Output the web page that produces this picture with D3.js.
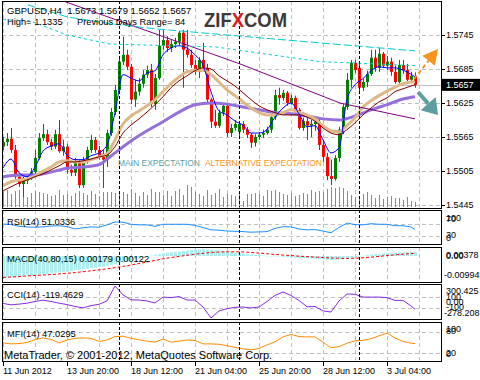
<!DOCTYPE html>
<html><head><meta charset="utf-8">
<script src="https://cdn.jsdelivr.net/npm/d3@7"></script>
<style>
html,body{margin:0;padding:0;background:#fff;}
svg{display:block;}
text{font-family:"Liberation Sans",Arial,sans-serif;white-space:pre;}
</style></head><body>
<svg id="c" width="480" height="380"></svg>
<script>
// ---------------- DATA ----------------
const titleText = "GBPUSD,H4  1.5673 1.5679 1.5652 1.5657";
const infoLeft = "High= 1.1335";
const infoRight = "Previous Days Range= 84";
const open = [1.5548,1.5556,1.5562,1.5542,1.5495,1.5482,1.5488,1.5493,1.5503,1.5528,
1.5563,1.5570,1.5556,1.5548,1.5570,1.5540,1.5548,1.5507,1.5502,1.5521,
1.5480,1.5521,1.5542,1.5560,1.5542,1.5530,1.5525,1.5572,1.5609,1.5648,
1.5698,1.5710,1.5689,1.5631,1.5645,1.5659,1.5675,1.5683,1.5623,1.5669,
1.5726,1.5736,1.5722,1.5729,1.5733,1.5749,1.5719,1.5710,1.5692,1.5680,
1.5701,1.5687,1.5631,1.5592,1.5585,1.5608,1.5620,1.5572,1.5581,1.5574,
1.5588,1.5578,1.5569,1.5555,1.5565,1.5569,1.5572,1.5578,1.5600,1.5639,
1.5634,1.5643,1.5625,1.5634,1.5613,1.5581,1.5593,1.5585,1.5588,1.5592,
1.5551,1.5530,1.5496,1.5491,1.5528,1.5578,1.5618,1.5666,1.5696,1.5687,
1.5652,1.5662,1.5676,1.5705,1.5687,1.5712,1.5691,1.5698,1.5680,1.5662,
1.5692,1.5683,1.5666,1.5673];
const high = [1.5565,1.5572,1.5581,1.5551,1.5500,1.5495,1.5498,1.5510,1.5542,1.5572,
1.5588,1.5578,1.5562,1.5578,1.5595,1.5560,1.5553,1.5516,1.5528,1.5525,
1.5530,1.5548,1.5569,1.5565,1.5549,1.5542,1.5578,1.5616,1.5657,1.5705,
1.5742,1.5719,1.5694,1.5666,1.5669,1.5683,1.5691,1.5694,1.5676,1.5754,
1.5754,1.5743,1.5736,1.5740,1.5752,1.5754,1.5754,1.5719,1.5701,1.5706,
1.5731,1.5694,1.5634,1.5613,1.5613,1.5625,1.5625,1.5588,1.5595,1.5593,
1.5593,1.5583,1.5572,1.5570,1.5574,1.5578,1.5583,1.5604,1.5648,1.5652,
1.5648,1.5646,1.5639,1.5638,1.5616,1.5599,1.5599,1.5595,1.5599,1.5599,
1.5560,1.5537,1.5525,1.5533,1.5583,1.5623,1.5678,1.5701,1.5701,1.5698,
1.5668,1.5682,1.5719,1.5719,1.5722,1.5715,1.5708,1.5705,1.5691,1.5701,
1.5701,1.5694,1.5680,1.5679];
const low = [1.5542,1.5549,1.5537,1.5491,1.5477,1.5459,1.5482,1.5489,1.5498,1.5525,
1.5558,1.5551,1.5542,1.5544,1.5537,1.5532,1.5500,1.5496,1.5496,1.5475,
1.5475,1.5518,1.5537,1.5537,1.5525,1.5475,1.5512,1.5567,1.5604,1.5643,
1.5692,1.5683,1.5623,1.5618,1.5638,1.5652,1.5669,1.5618,1.5613,1.5666,
1.5719,1.5715,1.5715,1.5722,1.5726,1.5652,1.5705,1.5687,1.5675,1.5669,
1.5680,1.5623,1.5581,1.5581,1.5581,1.5602,1.5565,1.5565,1.5576,1.5563,
1.5572,1.5563,1.5546,1.5548,1.5560,1.5563,1.5569,1.5572,1.5595,1.5622,
1.5629,1.5620,1.5622,1.5608,1.5578,1.5576,1.5560,1.5565,1.5576,1.5542,
1.5521,1.5489,1.5480,1.5488,1.5521,1.5570,1.5613,1.5652,1.5678,1.5646,
1.5646,1.5653,1.5673,1.5680,1.5680,1.5687,1.5683,1.5673,1.5659,1.5659,
1.5676,1.5662,1.5662,1.5652];
const close = [1.5556,1.5562,1.5542,1.5495,1.5482,1.5488,1.5493,1.5503,1.5528,1.5563,
1.5570,1.5556,1.5548,1.5570,1.5540,1.5548,1.5507,1.5502,1.5521,1.5480,
1.5521,1.5542,1.5560,1.5542,1.5530,1.5525,1.5572,1.5609,1.5648,1.5698,
1.5710,1.5689,1.5631,1.5645,1.5659,1.5675,1.5683,1.5623,1.5669,1.5726,
1.5736,1.5722,1.5729,1.5733,1.5749,1.5719,1.5710,1.5692,1.5680,1.5701,
1.5687,1.5631,1.5592,1.5585,1.5608,1.5620,1.5572,1.5581,1.5588,1.5588,
1.5578,1.5569,1.5555,1.5565,1.5569,1.5572,1.5578,1.5600,1.5639,1.5634,
1.5643,1.5625,1.5634,1.5613,1.5581,1.5593,1.5585,1.5588,1.5592,1.5551,
1.5530,1.5496,1.5491,1.5528,1.5578,1.5618,1.5666,1.5696,1.5683,1.5652,
1.5662,1.5676,1.5705,1.5687,1.5712,1.5691,1.5698,1.5680,1.5662,1.5692,
1.5683,1.5666,1.5673,1.5657];
const volume = [3000,3400,2600,3200,3400,2800,2000,2800,3200,3000,
2800,2600,2200,2400,3400,2400,2600,2200,2800,3200,
2800,2400,3200,2600,2200,3000,3000,3000,2800,2600,
3000,2600,3600,2800,2200,3000,2400,3600,3000,3000,
2400,3200,2200,3200,3600,2400,4400,4000,3000,2600,
2200,3400,2400,2800,3600,2000,2600,2400,2200,2800,
1200,2600,2600,2800,2600,2200,3400,3200,3400,3000,
2600,2400,2800,2200,2400,2800,2600,3400,3000,3200,
3000,3600,4000,3800,4000,3800,3200,2400,2000,2000,
2600,3000,2400,1800,2400,1600,2000,2200,1800,1800,
1400,2000,1200,1000];

// moving averages sampled every 2 bars (last sample = last bar)
const maIdx = d3.range(0, 103, 2).concat([103]);
const fastMA = [1.5510,1.5526,1.5502,1.5495,1.5512,1.5540,1.5549,1.5553,1.5533,1.5525,
1.5525,1.5532,1.5537,1.5551,1.5608,1.5675,1.5669,1.5664,1.5678,1.5682,
1.5710,1.5722,1.5726,1.5722,1.5710,1.5692,1.5645,1.5611,1.5604,1.5593,
1.5586,1.5572,1.5572,1.5578,1.5600,1.5616,1.5625,1.5606,1.5583,1.5585,
1.5560,1.5537,1.5546,1.5631,1.5657,1.5668,1.5682,1.5689,1.5687,1.5687,
1.5683,1.5676,1.5671];
const midMA = [1.5479,1.5486,1.5489,1.5491,1.5496,1.5505,1.5512,1.5521,1.5523,1.5521,
1.5521,1.5525,1.5530,1.5535,1.5560,1.5588,1.5602,1.5611,1.5620,1.5631,
1.5645,1.5659,1.5671,1.5680,1.5683,1.5683,1.5675,1.5662,1.5648,1.5638,
1.5627,1.5616,1.5608,1.5604,1.5604,1.5608,1.5613,1.5609,1.5604,1.5597,
1.5585,1.5576,1.5574,1.5585,1.5599,1.5618,1.5629,1.5638,1.5646,1.5653,
1.5659,1.5662,1.5662];
const mid2MA = [1.5470,1.5477,1.5484,1.5489,1.5495,1.5500,1.5507,1.5514,1.5521,1.5521,
1.5523,1.5526,1.5530,1.5533,1.5548,1.5572,1.5586,1.5597,1.5609,1.5622,
1.5636,1.5652,1.5664,1.5673,1.5682,1.5687,1.5685,1.5673,1.5664,1.5655,
1.5643,1.5631,1.5620,1.5613,1.5608,1.5604,1.5604,1.5604,1.5600,1.5593,
1.5581,1.5572,1.5569,1.5578,1.5590,1.5604,1.5616,1.5627,1.5634,1.5645,
1.5650,1.5655,1.5657];
const slowIdx = [0,4,8,12,16,20,24,26,28,32,36,40,44,48,52,56,60,64,68,72,76,80,84,88,92,96,100,103];
const slowMA = [1.5495,1.5498,1.5498,1.5503,1.5510,1.5512,1.5516,1.5526,1.5537,1.5558,
1.5576,1.5592,1.5609,1.5622,1.5625,1.5623,1.5618,1.5613,1.5608,1.5606,
1.5602,1.5597,1.5595,1.5602,1.5613,1.5622,1.5632,1.5636];

// chart objects: [bar index, price]
const cyanUpper = [[6.25,1.5798],[16,1.5777],[26.75,1.5765],[38,1.5756],[59.25,1.5743],[103,1.5717]];
const cyanLower = [[0,1.5772],[6.75,1.5770],[16,1.5745],[26.75,1.5729],[53,1.5724],[79.25,1.5698],[103,1.5691]];
const trendLine = [[14.25,1.5807],[59.25,1.5694],[84.25,1.5625],[103,1.5597]];

// indicators (every 2 bars, last = last bar)
const rsi = [70,68,62,60,59,60,63,64,61,53,57,60,59,67,77,76,69,67,67,62,
69,69,69,69,65,58,50,49,46,45,44,42,43,44,55,61,60,53,50,51,
46,40,58,73,68,67,71,69,69,64,64,60,51.03];
const macdMain = [-0.0099,-0.0097,-0.0095,-0.0093,-0.0091,-0.0090,-0.0088,-0.0087,-0.0085,-0.0083,
-0.0081,-0.0080,-0.0078,-0.0076,-0.0074,-0.0072,-0.0070,-0.0068,-0.0065,-0.0063,
-0.0060,-0.0058,-0.0055,-0.0053,-0.0050,-0.0048,-0.0044,-0.0040,-0.0036,-0.0032,
-0.0029,-0.0025,-0.0020,-0.0016,-0.0011,-0.0007,-0.0002,0.0002,0.0006,0.0009,
0.0012,0.0015,0.0017,0.0019,0.0021,0.0023,0.0025,0.0027,0.0028,0.0029,
0.0030,0.0029,0.0028,0.0027,0.0025,0.0023,0.0020,0.0018,0.0015,0.0013,
0.0011,0.0009,0.0007,0.0005,0.0003,0.0002,0.0000,-0.0001,-0.0002,-0.0003,
-0.0004,-0.0005,-0.0006,-0.0008,-0.0009,-0.0010,-0.0011,-0.0012,-0.0013,-0.0015,
-0.0016,-0.0017,-0.0018,-0.0018,-0.0016,-0.0013,-0.0010,-0.0007,-0.0004,-0.0001,
0.0001,0.0004,0.0006,0.0008,0.0009,0.0011,0.0012,0.0013,0.0014,0.0015,
0.0016,0.0017,0.0017,0.00179];
const macdSignal = [-0.0097,-0.0095,-0.0093,-0.0090,-0.0088,-0.0086,-0.0084,-0.0081,-0.0078,-0.0075,
-0.0071,-0.0067,-0.0063,-0.0058,-0.0053,-0.0047,-0.0041,-0.0034,-0.0027,-0.0020,
-0.0013,-0.0007,-0.0002,0.0003,0.0008,0.0012,0.0016,0.0018,0.0019,0.0019,
0.0018,0.0016,0.0013,0.0010,0.0007,0.0004,0.0002,-0.0001,-0.0003,-0.0005,
-0.0007,-0.0009,-0.0010,-0.0011,-0.0010,-0.0008,-0.0005,-0.0002,0.0002,0.0005,
0.0008,0.0011,0.00122];
const cci = [-15,-40,-27,-10,20,45,20,-10,-35,-70,-95,-55,-30,30,300,140,50,47,30,-7,
100,90,110,47,47,-80,-278,-150,-110,-85,-80,-97,-80,20,130,192,130,40,-75,-70,
-150,-170,30,156,150,100,100,100,90,40,40,-60,-119.46];
const mfi = [49,46,47,50,58,63,59,49,57,62,63,62,53,57,67,68,62,58,54,51,
60,51,54,57,56,46,46,45,41,36,32,29,33,43,52,66,73,67,66,66,
51,35,38,48,55,56,61,69,77,63,53,48,47.03];

// axes / labels
const priceTicks = [1.5745,1.5685,1.5625,1.5565,1.5505,1.5445];
const lastPrice = 1.5657;
const timeLabels = ["11 Jun 2012","13 Jun 20:00","18 Jun 12:00","21 Jun 04:00","25 Jun 20:00","28 Jun 12:00","3 Jul 04:00"];
const timeIdx = [0,16,32,48,64,80,96];
const weekIdx = [29,59,89];
const rsiLabel = "RSI(14) 51.0336";
const macdLabel = "MACD(40,80,15) 0.00179 0.00122";
const cciLabel = "CCI(14) -119.4629";
const mfiLabel = "MFI(14) 47.0295";
const rsiScaleLabels = ["100","70","30","0"];
const macdScaleLabels = ["0.00378","0.00","-0.00994"];
const cciScaleLabels = ["300.425","100","0.00","-100","-278.208"];
const mfiScaleLabels = ["100","80","20","0"];
const rsiLevels = [70,30], cciLevels = [100,-100], mfiLevels = [80,20];
const copyright = "MetaTrader, \u00A9 2001-2012, MetaQuotes Software Corp.";

// ---------------- DRAWING ----------------
const svg = d3.select("#c");
const L = 2, R = 441;
const x = d3.scaleLinear().domain([0,103]).range([3,415]);
const yP = d3.scaleLinear().domain([1.5445,1.5745]).range([205,35]);
const yV = d3.scaleLinear().domain([0,6000]).range([207,177]);
const yRSI = d3.scaleLinear().domain([0,100]).range([244.5,215.2]);
const yMACD = d3.scaleLinear().domain([-0.00994,0.00378]).range([278,247.6]);
const yCCI = d3.scaleLinear().domain([-278.208,300.425]).range([318,286]);
const yMFI = d3.scaleLinear().domain([0,100]).range([360,325]);

const panels = {main:[1,208], rsi:[210,244], macd:[247,282], cci:[284,319], mfi:[322,361]};
const defs = svg.append("defs");
Object.entries(panels).forEach(([k,[t,b]])=>{
  defs.append("clipPath").attr("id","clip-"+k).append("rect")
    .attr("x",L+0.5).attr("y",t+0.5).attr("width",R-L-1).attr("height",b-t-1);
});
const gridIdx = d3.range(0,105,8);
const gridCol = "#c0c0c0";

function panelBase(k, levels, yS){
  const [t,b] = panels[k];
  const g = svg.append("g").attr("clip-path","url(#clip-"+k+")");
  g.selectAll("line.vg").data(gridIdx).join("line")
    .attr("x1",d=>x(d)+0.5).attr("x2",d=>x(d)+0.5).attr("y1",t).attr("y2",b)
    .attr("stroke",gridCol).attr("stroke-dasharray","4,3");
  if(levels){
    g.selectAll("line.hg").data(levels).join("line")
      .attr("x1",L).attr("x2",R).attr("y1",d=>Math.round(yS(d))+0.5).attr("y2",d=>Math.round(yS(d))+0.5)
      .attr("stroke",gridCol).attr("stroke-dasharray","4,3");
  }
  return g;
}
function panelTop(k, g){
  const [t,b] = panels[k];
  g.selectAll("line.sep").data(weekIdx).join("line")
    .attr("x1",d=>x(d)+0.5).attr("x2",d=>x(d)+0.5).attr("y1",t).attr("y2",b)
    .attr("stroke","#000").attr("stroke-dasharray","3,2");
  svg.append("rect").attr("x",L+0.5).attr("y",t+0.5).attr("width",R-L).attr("height",b-t)
    .attr("fill","none").attr("stroke","#000");
}

// ----- main panel -----
const gm = panelBase("main", priceTicks, yP);
gm.append("line").attr("x1",L).attr("x2",R).attr("y1",Math.round(yP(lastPrice))+0.5).attr("y2",Math.round(yP(lastPrice))+0.5)
  .attr("stroke","#c0c0c0");
gm.selectAll("line.vol").data(volume).join("line")
  .attr("x1",(d,i)=>x(i)+0.5).attr("x2",(d,i)=>x(i)+0.5)
  .attr("y1",yV(0)).attr("y2",d=>yV(d)).attr("stroke","#5f9ea0");
const bars = close.map((c,i)=>({i,o:open[i],h:high[i],l:low[i],c}));
const col = d=> d.c>=d.o ? "#008000" : "#ff0000";
gm.selectAll("line.wick").data(bars).join("line")
  .attr("x1",d=>x(d.i)+0.5).attr("x2",d=>x(d.i)+0.5)
  .attr("y1",d=>yP(d.h)).attr("y2",d=>yP(d.l)).attr("stroke",col);
gm.selectAll("rect.body").data(bars).join("rect")
  .attr("x",d=>x(d.i)-1).attr("width",3)
  .attr("y",d=>Math.min(yP(d.o),yP(d.c)))
  .attr("height",d=>Math.max(1,Math.abs(yP(d.o)-yP(d.c))))
  .attr("fill",col);
const maLine = d3.line().x(d=>x(d[0])).y(d=>yP(d[1])).curve(d3.curveMonotoneX);
gm.append("path").attr("d",maLine(slowIdx.map((k,j)=>[k,slowMA[j]]))).attr("fill","none").attr("stroke","#9370db").attr("stroke-width",3);
gm.append("path").attr("d",maLine(maIdx.map((k,j)=>[k,midMA[j]]))).attr("fill","none").attr("stroke","#deb887").attr("stroke-width",3);
gm.append("path").attr("d",maLine(maIdx.map((k,j)=>[k,mid2MA[j]]))).attr("fill","none").attr("stroke","#800000").attr("stroke-width",1);
gm.append("path").attr("d",maLine(maIdx.map((k,j)=>[k,fastMA[j]]))).attr("fill","none").attr("stroke","#0000ff").attr("stroke-width",1);
const objLine = d3.line().x(d=>x(d[0])).y(d=>yP(d[1]));
gm.append("path").attr("d",objLine(trendLine)).attr("fill","none").attr("stroke","#800080").attr("stroke-width",1);
gm.append("path").attr("d",objLine(cyanUpper)).attr("fill","none").attr("stroke","#00ced1").attr("stroke-width",1).attr("stroke-dasharray","8,3");
gm.append("path").attr("d",objLine(cyanLower)).attr("fill","none").attr("stroke","#00ced1").attr("stroke-width",1).attr("stroke-dasharray","3,3");
panelTop("main", gm);

// texts in main
svg.append("text").attr("x",7).attr("y",14).attr("font-size",9.5).attr("fill","#000").text(titleText);
svg.append("text").attr("x",7).attr("y",24.5).attr("font-size",9.3).attr("fill","#000").text(infoLeft);
svg.append("text").attr("x",77).attr("y",24.5).attr("font-size",9.3).attr("fill","#000").text(infoRight);
const logo = svg.append("text").attr("x",204).attr("y",27).attr("font-size",21).attr("font-weight","bold")
  .attr("textLength",83).attr("lengthAdjust","spacingAndGlyphs").attr("fill","#3a3a3a");
logo.append("tspan").text("ZIF");
logo.append("tspan").attr("fill","#d71920").text("X");
logo.append("tspan").text("COM");
svg.append("text").attr("x",118).attr("y",165.5).attr("font-size",8.5).attr("fill","#5f9ea0")
  .attr("textLength",82).attr("lengthAdjust","spacing").text("MAIN EXPECTATION");
svg.append("text").attr("x",205).attr("y",165.5).attr("font-size",8.5).attr("fill","#f7941d")
  .attr("textLength",117).attr("lengthAdjust","spacing").text("ALTERNATIVE EXPECTATION");

function arrow(x1,y1,x2,y2,color,w,dash,headLen,headW){
  const dx=x2-x1, dy=y2-y1, len=Math.hypot(dx,dy), ux=dx/len, uy=dy/len;
  const bx=x2-ux*headLen, by=y2-uy*headLen;
  svg.append("line").attr("x1",x1).attr("y1",y1).attr("x2",bx).attr("y2",by)
    .attr("stroke",color).attr("stroke-width",w).attr("stroke-dasharray",dash||null);
  svg.append("path").attr("d",`M${x2},${y2}L${bx-uy*headW},${by+ux*headW}L${bx+uy*headW},${by-ux*headW}Z`).attr("fill",color);
}
arrow(414,79,438,49,"#f7941d",2,"4,3",15,8);
arrow(418,92,438,115,"#5f9ea0",4,null,15,10);

// ----- RSI -----
const gr = panelBase("rsi", rsiLevels, yRSI);
const idxLine = (yS)=> d3.line().x(d=>x(d[0])).y(d=>yS(d[1]));
gr.append("path").attr("d",idxLine(yRSI)(maIdx.map((k,j)=>[k,rsi[j]]))).attr("fill","none").attr("stroke","#1e90ff");
panelTop("rsi", gr);

// ----- MACD -----
const gmc = panelBase("macd", null, yMACD);
gmc.selectAll("rect.h").data(macdMain).join("rect")
  .attr("x",(d,i)=>x(i)-1).attr("width",3)
  .attr("y",d=>Math.min(yMACD(0),yMACD(d))).attr("height",d=>Math.max(0.5,Math.abs(yMACD(d)-yMACD(0))))
  .attr("fill","#afeeee");
gmc.append("path").attr("d",idxLine(yMACD)(maIdx.map((k,j)=>[k,macdSignal[j]]))).attr("fill","none")
  .attr("stroke","#ff0000").attr("stroke-dasharray","3,2");
panelTop("macd", gmc);

// ----- CCI -----
const gc = panelBase("cci", cciLevels, yCCI);
gc.append("path").attr("d",idxLine(yCCI)(maIdx.map((k,j)=>[k,cci[j]]))).attr("fill","none").attr("stroke","#8a2be2");
panelTop("cci", gc);

// ----- MFI -----
const gf = panelBase("mfi", mfiLevels, yMFI);
gf.append("path").attr("d",idxLine(yMFI)(maIdx.map((k,j)=>[k,mfi[j]]))).attr("fill","none").attr("stroke","#ff8c00");
panelTop("mfi", gf);

const fs = 9.3;
[[rsiLabel,224.5],[macdLabel,261.5],[cciLabel,298],[mfiLabel,336.5]].forEach(([t,y])=>{
  svg.append("text").attr("x",7).attr("y",y).attr("font-size",fs).attr("fill","#000").text(t);
});
svg.append("text").attr("x",4).attr("y",359).attr("font-size",11).attr("fill","#000").text(copyright);

// right price axis
svg.selectAll("line.pt").data(priceTicks).join("line")
  .attr("x1",R).attr("x2",R+4).attr("y1",d=>Math.round(yP(d))+0.5).attr("y2",d=>Math.round(yP(d))+0.5).attr("stroke","#000");
svg.selectAll("text.pt").data(priceTicks).join("text")
  .attr("x",446).attr("y",d=>yP(d)+3.3).attr("font-size",9).attr("fill","#000").text(d=>d.toFixed(4));
svg.append("rect").attr("x",442).attr("y",yP(lastPrice)-6).attr("width",38).attr("height",12).attr("fill","#000");
svg.append("text").attr("x",446).attr("y",yP(lastPrice)+3.3).attr("font-size",9).attr("fill","#fff").text(lastPrice.toFixed(4));

function scaleLabels(labels, ys, xs){
  labels.forEach((t,i)=>svg.append("text").attr("x",xs[i]).attr("y",ys[i]).attr("font-size",9).attr("fill","#000").text(t));
}
scaleLabels(rsiScaleLabels,[220.5,222,238,240.5],[446,446,446,446]);
scaleLabels(macdScaleLabels,[258,259,278],[446,446,444]);
scaleLabels(cciScaleLabels,[293.5,299.5,304.5,309.5,316],[446,446,446,446,444]);
scaleLabels(mfiScaleLabels,[332,333.5,355.5,357],[446,446,446,446]);

// time axis
svg.selectAll("line.tt").data(timeIdx).join("line")
  .attr("x1",d=>x(d)+0.5).attr("x2",d=>x(d)+0.5).attr("y1",361).attr("y2",366).attr("stroke","#000");
svg.selectAll("text.tt").data(timeLabels).join("text")
  .attr("x",(d,i)=>x(timeIdx[i])).attr("y",374).attr("font-size",9).attr("fill","#000").text(d=>d);
</script>
</body></html>
